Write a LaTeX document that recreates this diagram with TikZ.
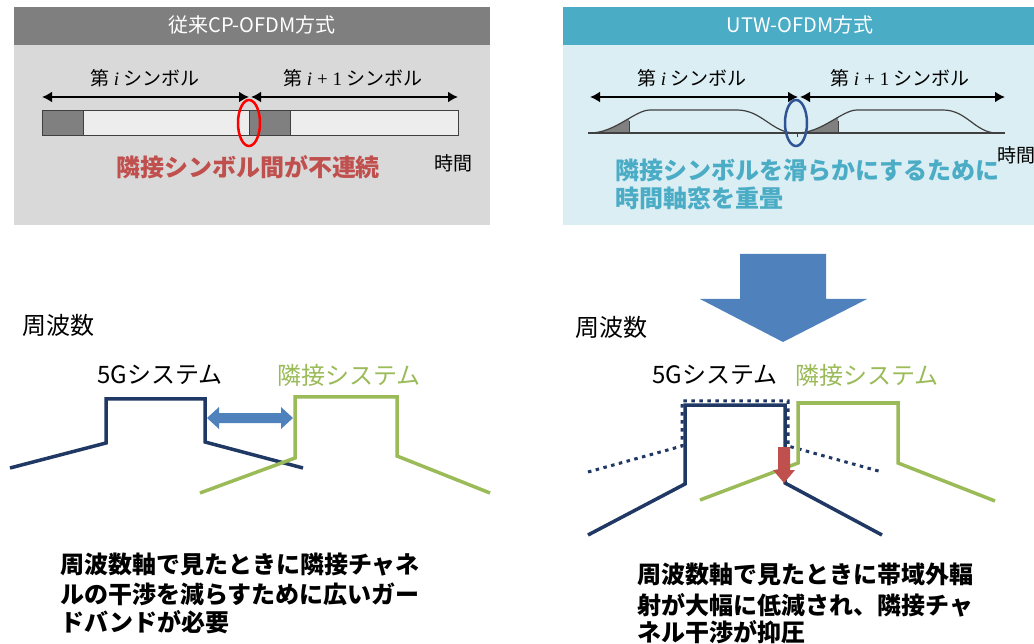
\documentclass[tikz,border=0pt]{standalone}
\usepackage{fontspec}
\setmainfont{Noto Sans CJK JP}
\newfontfamily\lsrf{Liberation Serif}
\newcommand{\vi}{{\lsrf\itshape i}}
\newcommand{\vip}{{\lsrf\itshape i}\hspace{5pt}{\lsrf +}\hspace{5pt}{\lsrf 1}}
\usetikzlibrary{arrows.meta}
\definecolor{hdrgray}{HTML}{7F7F7F}
\definecolor{bodygray}{HTML}{D9D9D9}
\definecolor{hdrteal}{HTML}{4BACC6}
\definecolor{bodyblue}{HTML}{DBEEF3}
\definecolor{barlight}{HTML}{EDEDED}
\definecolor{bardark}{HTML}{808080}
\definecolor{redtxt}{HTML}{C0504D}
\definecolor{navy}{HTML}{1F3864}
\definecolor{grn}{HTML}{9BBB59}
\definecolor{arrblue}{HTML}{4F81BD}
\definecolor{ellblue}{HTML}{2F5597}
\definecolor{outl}{HTML}{404040}
\tikzset{
  ttl/.style={text=white, font=\fontsize{20}{24}\selectfont, inner sep=0pt},
  symlbl/.style={font=\fontsize{19}{23}\selectfont, inner sep=0pt},
  dimarr/.style={line width=2pt, {Latex[length=10pt,width=11pt]}-{Latex[length=10pt,width=11pt]}},
  barln/.style={draw=outl, line width=1pt},
  bigtxt/.style={font=\bfseries\fontsize{24}{28}\selectfont, inner sep=0pt},
  midtxt/.style={font=\fontsize{24}{28}\selectfont, inner sep=0pt},
  smtxt/.style={font=\fontsize{19}{23}\selectfont, inner sep=0pt},
  wave/.style={draw=outl, line width=1.2pt},
  navyln/.style={draw=navy, line width=3.5pt, line join=miter},
  grnln/.style={draw=grn, line width=3.5pt, line join=miter},
  dotln/.style={draw=navy, line width=3pt, dash pattern=on 3.5pt off 4.5pt},
  circ/.style={line width=2.5pt}
}
\begin{document}
\begin{tikzpicture}[x=1pt,y=-1pt]
\useasboundingbox (0,0) rectangle (1034,644);
\fill[white] (0,0) rectangle (1034,644);

% ===== Left panel =====
\fill[bodygray] (14,45) rectangle (490,225);
\fill[hdrgray] (14,7) rectangle (490,45);
\node[ttl] (t1) at (252,25) {従来CP-OFDM方式};
\node[symlbl] (s1a) at (145,78) {第 \vi\ シンボル};
\node[symlbl] (s1b) at (353,78) {第 \vip\ シンボル};
\coordinate (a1l) at (42,97);
\coordinate (a1m) at (249,97);
\coordinate (a1n) at (251,97);
\coordinate (a1r) at (458,97);
\draw[dimarr] (a1l) -- (a1m);
\draw[dimarr] (a1n) -- (a1r);
\draw[barln, fill=barlight] (42,111) rectangle (458,136);
\draw[barln, fill=bardark] (42,111) rectangle (83,136);
\draw[barln, fill=bardark] (249,111) rectangle (290,136);
\draw[red, circ] (249,123) ellipse [x radius=11pt, y radius=23pt];
\node[bigtxt, text=redtxt] (r1) at (248,167) {隣接シンボル間が不連続};
\node[smtxt] (tm1) at (453,163) {時間};

% ===== Right panel =====
\fill[bodyblue] (563,45) rectangle (1034,225);
\fill[hdrteal] (563,7) rectangle (1034,45);
\node[ttl] (t2) at (800,25) {UTW-OFDM方式};
\node[symlbl] (s2a) at (692,78) {第 \vi\ シンボル};
\node[symlbl] (s2b) at (900,78) {第 \vip\ シンボル};
\coordinate (a2l) at (590,97);
\coordinate (a2m) at (798,97);
\coordinate (a2n) at (800,97);
\coordinate (a2r) at (1005,97);
\draw[dimarr] (a2l) -- (a2m);
\draw[dimarr] (a2n) -- (a2r);
% shaded CP parts
\begin{scope}
  \clip (585,100) rectangle (629,133);
  \fill[bardark] (590,133) .. controls (615,133) and (635,110) .. (650,110) -- (650,133) -- cycle;
\end{scope}
\begin{scope}
  \clip (792,100) rectangle (838,133);
  \fill[bardark] (797,133) .. controls (822,133) and (842,110) .. (857,110) -- (857,133) -- cycle;
\end{scope}
\draw[outl, line width=1pt] (629,133) -- (629,121.5);
\draw[outl, line width=1pt] (838,133) -- (838,121.5);
% baseline
\draw[outl, line width=1.5pt] (588,133) -- (1005,133);
\draw[outl, line width=1pt] (797,133) -- (797,137);
% waveforms
\draw[wave] (590,133) .. controls (615,133) and (635,110) .. (650,110) -- (737,110)
  .. controls (762,110) and (772,133) .. (795,133);
\draw[wave] (797,133) .. controls (822,133) and (842,110) .. (857,110) -- (943,110)
  .. controls (967,110) and (975,133) .. (997,133);
\draw[ellblue, circ] (796,123) ellipse [x radius=11pt, y radius=23pt];
\node[smtxt, anchor=west] (tm2) at (997,155) {時間};
\node[bigtxt, text=hdrteal, anchor=west] (c1) at (615,170) {隣接シンボルを滑らかにするために};
\node[bigtxt, text=hdrteal, anchor=west] (c2) at (615,198) {時間軸窓を重畳};

% ===== Big down arrow =====
\fill[arrblue] (740,254) -- (826,254) -- (826,299) -- (867,299) -- (783,342)
  -- (700,299) -- (740,299) -- cycle;

% ===== Lower left =====
\node[midtxt, anchor=west] (f1) at (22,325) {周波数};
\node[midtxt, anchor=west] (g1) at (97,375) {5Gシステム};
\node[midtxt, anchor=west, text=grn] (n1) at (277,375) {隣接システム};
\draw[navyln] (10,468) -- (106,443) -- (106,399) -- (205,399) -- (205,442) -- (303,468);
\draw[grnln] (200,493) -- (295,458) -- (295,397) -- (397,397) -- (397,456) -- (490,493);
\fill[arrblue] (207,418) -- (219,407) -- (219,413) -- (281,413) -- (281,407) -- (293,418)
  -- (281,429) -- (281,423) -- (219,423) -- (219,429) -- cycle;

% ===== Lower right =====
\node[midtxt, anchor=west] (f2) at (575,327) {周波数};
\node[midtxt, anchor=west] (g2) at (652,375) {5Gシステム};
\node[midtxt, anchor=west, text=grn] (n2) at (795,375) {隣接システム};
\draw[dotln] (588,472) -- (682,446) -- (682,401) -- (788,401) -- (788,446) -- (882,472);
\draw[navyln] (588,535) -- (685,484) -- (685,405) -- (785,405) -- (785,483) -- (882,535);
\draw[grnln] (700,500) -- (798,463) -- (798,403) -- (898,403) -- (898,463) -- (995,501);
\fill[redtxt] (778,447) -- (790,447) -- (790,470) -- (795,470) -- (784,483) -- (773,470)
  -- (778,470) -- cycle;

% ===== Bottom texts =====
\node[bigtxt, anchor=base west] (b1) at (60,573) {周波数軸で見たときに隣接チャネ};
\node[bigtxt, anchor=base west] (b2) at (60,603) {ルの干渉を減らすために広いガー};
\node[bigtxt, anchor=base west] (b3) at (60,631) {ドバンドが必要};
\node[bigtxt, anchor=base west] (d1) at (637,583) {周波数軸で見たときに帯域外輻};
\node[bigtxt, anchor=base west] (d2) at (637,614) {射が大幅に低減され、隣接チャ};
\node[bigtxt, anchor=base west] (d3) at (637,641) {ネル干渉が抑圧};
\end{tikzpicture}
\end{document}
